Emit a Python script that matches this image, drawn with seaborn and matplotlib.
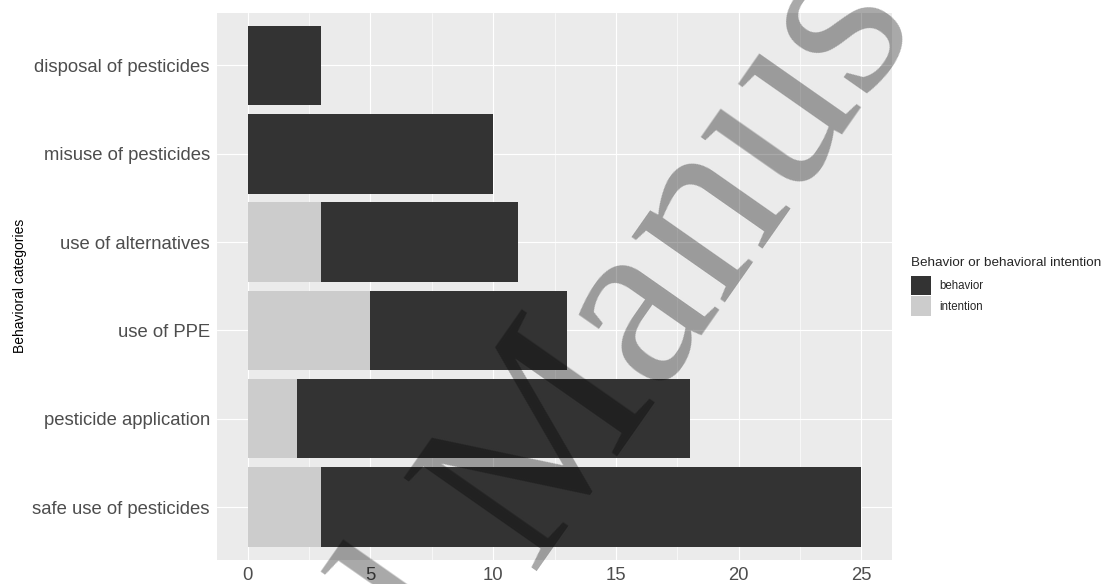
import numpy as np
import pandas as pd
import matplotlib
matplotlib.use("Agg")
import matplotlib.pyplot as plt
import matplotlib.patches as mpatches
import seaborn as sns

# Counts per behavioral category (top to bottom as drawn)
categories = [
    "disposal of pesticides",
    "misuse of pesticides",
    "use of alternatives",
    "use of PPE",
    "pesticide application",
    "safe use of pesticides",
]
behavior = [3, 10, 8, 8, 16, 22]
intention = [0, 0, 3, 5, 2, 3]
x_ticks = [0, 5, 10, 15, 20, 25]
legend_labels = ["behavior", "intention"]

BEHAVIOR_COLOR = "#333333"
INTENTION_COLOR = "#CCCCCC"

sns.set_theme(style="white")
plt.rcParams["font.family"] = ["Liberation Sans", "DejaVu Sans"]

df = pd.DataFrame({"category": categories, "behavior": behavior, "intention": intention})
df["total"] = df["behavior"] + df["intention"]

W, H = 1104, 584
fig = plt.figure(figsize=(W / 100, H / 100), dpi=100)
ax = fig.add_axes([217 / W, 1 - 560 / H, 675 / W, 547.5 / H])
ax.set_facecolor("#EBEBEB")

# stacked bars: full length in the behavior colour, intention share from zero
sns.barplot(data=df, x="total", y="category", order=categories, color=BEHAVIOR_COLOR,
            saturation=1, width=0.9, errorbar=None, linewidth=0, ax=ax)
sns.barplot(data=df, x="intention", y="category", order=categories, color=INTENTION_COLOR,
            saturation=1, width=0.9, errorbar=None, linewidth=0, ax=ax)

ax.set_xlim(-1.25, 26.25)
ax.set_ylim(len(categories) - 0.4, -0.6)
ax.set_xticks(x_ticks)
ax.set_xticklabels([str(t) for t in x_ticks])
ax.set_xticks([2.5, 7.5, 12.5, 17.5, 22.5], minor=True)

ax.set_axisbelow(True)
ax.grid(which="major", color="white", linewidth=0.85)
ax.grid(which="minor", axis="x", color="white", linewidth=0.45)
for s in ax.spines.values():
    s.set_visible(False)

ax.tick_params(axis="both", which="major", labelsize=13.3, labelcolor="#4D4D4D",
               color="#333333", length=2.9, width=0.75, pad=2.2)
ax.tick_params(axis="both", which="minor", length=0)

ax.set_xlabel("")
ax.set_ylabel("Behavioral categories", fontsize=10, color="black")
ax.yaxis.label.set_va("center")
ax.yaxis.set_label_coords((20 - 217) / 675, 0.5)

handles = [mpatches.Patch(facecolor=BEHAVIOR_COLOR, edgecolor="none"),
           mpatches.Patch(facecolor=INTENTION_COLOR, edgecolor="none")]
leg = fig.legend(handles, legend_labels, title="Behavior or behavioral intention",
                 loc="upper left", bbox_to_anchor=(911 / W, 1 - 257 / H), frameon=False,
                 fontsize=8.3, title_fontsize=9.7, handlelength=1.74, handleheight=2.2,
                 handletextpad=0.7, labelspacing=0.1, borderpad=0, borderaxespad=0,
                 alignment="left")
leg._legend_box.sep = 5

# diagonal watermark
theta = 55.0
em = 248.0
b = np.array([np.cos(np.radians(theta)), -np.sin(np.radians(theta))])
p = np.array([530.0, 571.0])
q = p - 0.25 * em * b
wm = dict(rotation=theta, rotation_mode="anchor", va="baseline", fontsize=em * 0.72,
          family="Liberation Serif", color="black", alpha=0.34, zorder=10)
fig.text(p[0] / W, 1 - p[1] / H, "Manus", ha="left", **wm)
fig.text(q[0] / W, 1 - q[1] / H, "Accepted", ha="right", **wm)

fig.savefig("out.png", dpi=100)
